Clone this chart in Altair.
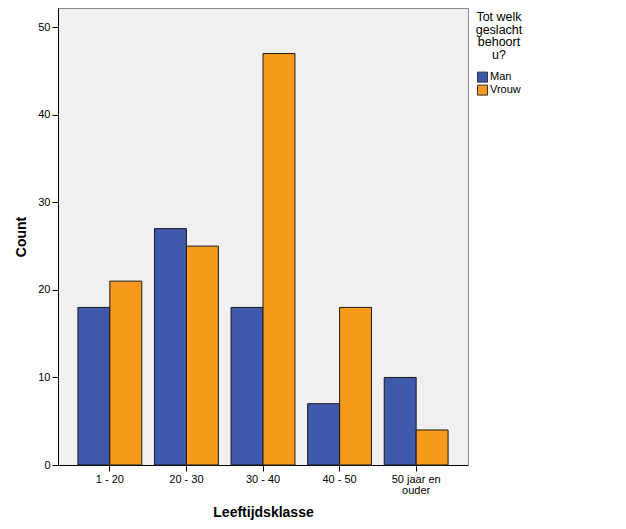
import altair as alt
import pandas as pd

categories = ["1 - 20", "20 - 30", "30 - 40", "40 - 50", "50 jaar en ouder"]
man = [18, 27, 18, 7, 10]
vrouw = [21, 25, 47, 18, 4]
genders = ["Man", "Vrouw"]
colors = ["#3e58ac", "#f7991c"]

rows = []
for c, m, v in zip(categories, man, vrouw):
    rows.append({"klasse": c, "geslacht": "Man", "count": m})
    rows.append({"klasse": c, "geslacht": "Vrouw", "count": v})
df = pd.DataFrame(rows)

font = "Liberation Sans"

chart = alt.Chart(df).mark_bar(stroke="#1a1a1a", strokeWidth=1).encode(
    x=alt.X("klasse:N", sort=categories,
            scale=alt.Scale(paddingInner=0.166, paddingOuter=0.26),
            axis=alt.Axis(title="Leeftijdsklasse", labelAngle=0,
                          labelExpr="datum.label == '50 jaar en ouder' ? ['50 jaar en', 'ouder'] : datum.label",
                          labelFontSize=11, labelFont=font, labelColor="#000",
                          titleFont=font, titleFontSize=14, titleFontWeight="bold",
                          titleColor="#000", titlePadding=10,
                          domainColor="#000", tickColor="#000", tickSize=6,
                          labelPadding=2, labelLineHeight=11)),
    xOffset=alt.XOffset("geslacht:N", sort=genders,
                        scale=alt.Scale(paddingInner=0, paddingOuter=0)),
    y=alt.Y("count:Q", scale=alt.Scale(domain=[0, 52.2], nice=False),
            axis=alt.Axis(title="Count", values=[0, 10, 20, 30, 40, 50], grid=False,
                          labelFontSize=11, labelFont=font, labelColor="#000",
                          titleFont=font, titleFontSize=14, titleFontWeight="bold",
                          titleColor="#000", titlePadding=9,
                          domainColor="#000", tickColor="#000", tickSize=6,
                          labelPadding=2)),
    color=alt.Color("geslacht:N", sort=genders,
                    scale=alt.Scale(domain=genders, range=colors),
                    legend=alt.Legend(title=["Tot welk", "geslacht", "behoort", "u?"],
                                      orient="none", legendX=418, legendY=3,
                                      titleFont=font, titleFontSize=12.5, titleFontWeight="normal",
                                      titleColor="#000", titleAnchor="middle", titleAlign="center",
                                      titleLineHeight=12.7, titlePadding=10,
                                      labelFont=font, labelFontSize=11, labelColor="#000",
                                      symbolType="square", symbolSize=100,
                                      symbolStrokeColor="#333", symbolStrokeWidth=1,
                                      labelOffset=2, rowPadding=-2)),
).properties(
    width=410, height=457,
    autosize=alt.AutoSizeParams(type="none"),
    padding={"left": 50, "top": 0, "right": 150, "bottom": 56},
).configure_view(
    fill="#f0f0f0", stroke="#888", strokeWidth=1
)

chart.save("out.html", embed_options={"renderer": "svg", "actions": False})
